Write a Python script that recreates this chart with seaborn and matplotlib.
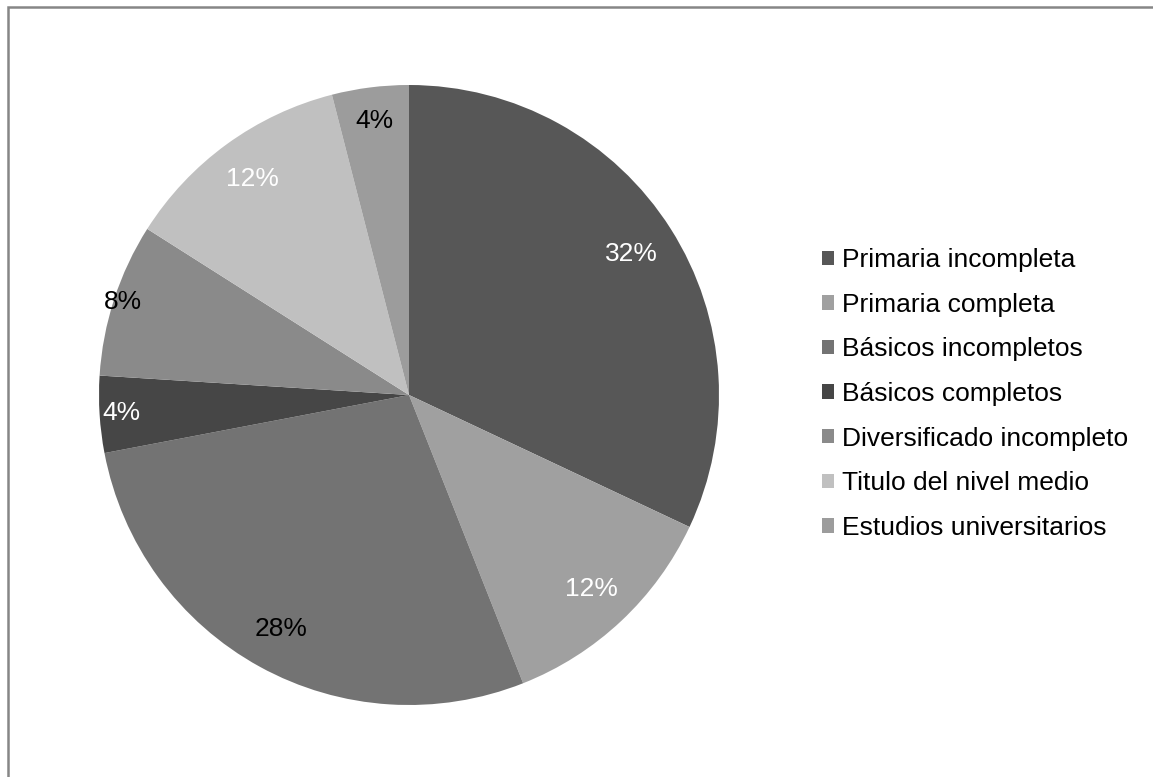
import matplotlib
matplotlib.use("Agg")
import matplotlib.pyplot as plt
import seaborn as sns
import numpy as np
from matplotlib.patches import Rectangle

categories = ["Primaria incompleta", "Primaria completa", "Básicos incompletos",
              "Básicos completos", "Diversificado incompleto", "Titulo del nivel medio",
              "Estudios universitarios"]
values = [32, 12, 28, 4, 8, 12, 4]
colors = ["#575757", "#a0a0a0", "#737373", "#464646", "#8a8a8a", "#c0c0c0", "#9c9c9c"]
label_colors = ["white", "white", "black", "white", "black", "white", "black"]
label_dist = [0.85, 0.86, 0.86, 0.93, 0.97, 0.86, 0.89]

sns.set_theme(style="white")
plt.rcParams["font.family"] = ["Liberation Sans", "DejaVu Sans"]
plt.rcParams["text.color"] = "black"

W, H = 1153, 777
fig = plt.figure(figsize=(W / 100, H / 100), dpi=100)
fig.patch.set_facecolor("white")

cx, cy, R = 409, 395, 310
ax = fig.add_axes([(cx - R) / W, (H - cy - R) / H, 2 * R / W, 2 * R / H])
wedges, texts, autotexts = ax.pie(values, colors=colors, startangle=90, counterclock=False,
                                  autopct=lambda p: f"{p:.0f}%", pctdistance=0.86,
                                  wedgeprops=dict(linewidth=0),
                                  textprops=dict(fontsize=19))
for w, t, c, d in zip(wedges, autotexts, label_colors, label_dist):
    ang = np.deg2rad((w.theta1 + w.theta2) / 2)
    t.set_position((d * np.cos(ang), d * np.sin(ang)))
    t.set_color(c)
ax.set_xlim(-1, 1)
ax.set_ylim(-1, 1)
ax.set_aspect("equal")
ax.axis("off")

leg = fig.legend(wedges, categories, loc="center left",
                 bbox_to_anchor=(822 / W, (H - 394) / H),
                 frameon=False, fontsize=19, handlelength=0.47, handleheight=0.47,
                 handletextpad=0.3, labelspacing=0.78, borderpad=0, borderaxespad=0)
for t in leg.get_texts():
    t.set_color("black")

fig.add_artist(Rectangle((7.5 / W, -0.05), 1.2, (H - 7) / H + 0.05,
                         transform=fig.transFigure, fill=False,
                         edgecolor="#868686", linewidth=1.8))

fig.savefig("out.png", dpi=100, facecolor="white")
